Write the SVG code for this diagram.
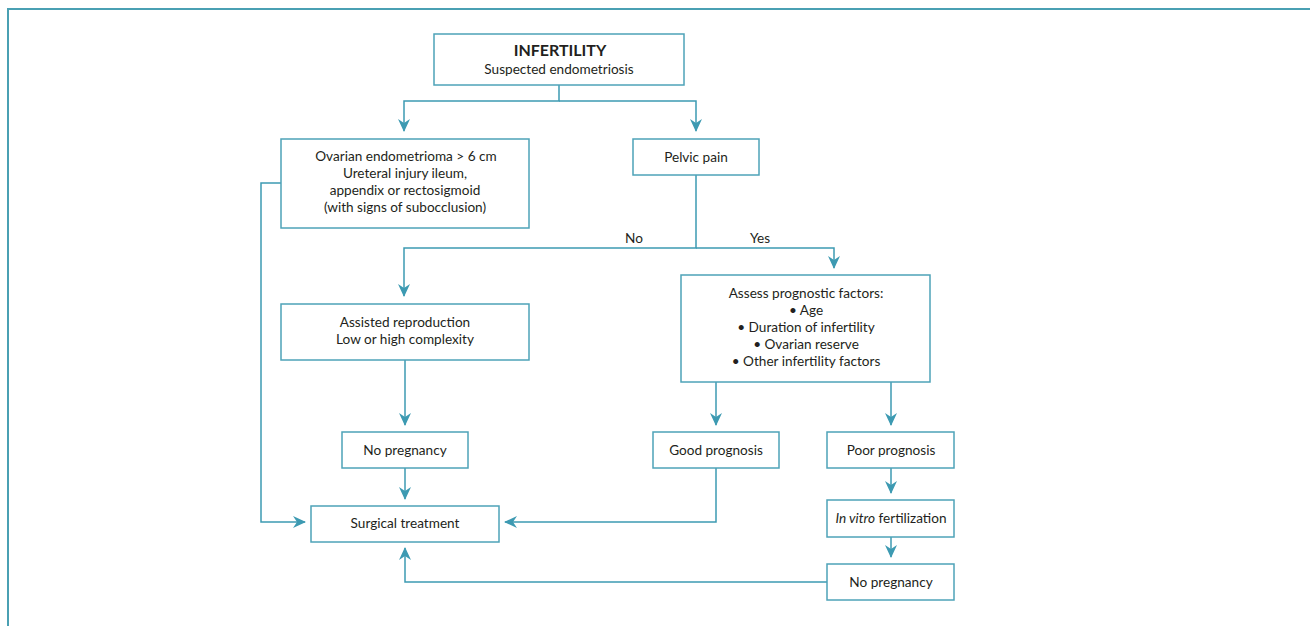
<svg xmlns="http://www.w3.org/2000/svg" width="1310" height="626" viewBox="0 0 1310 626">
<defs>
<style>
.box{fill:#fff;stroke:#4ea3b8;stroke-width:1.5}
.ln{fill:none;stroke:#3d9ab2;stroke-width:1.5}
.t{font-family:Lato,"Open Sans",sans-serif;font-size:13.6px;fill:#231f20;text-anchor:middle}
.b{font-weight:bold;font-size:16px}
</style>
<marker id="ah" markerUnits="userSpaceOnUse" markerWidth="14" markerHeight="14" viewBox="0 0 14 14" refX="12" refY="7" orient="auto">
<path d="M0,1 L13,7 L0,13 L4,7 z" fill="#3d9ab2"/>
</marker>
</defs>
<rect x="0" y="0" width="1310" height="626" fill="#fff"/>
<path d="M8,626 V9 H1310" fill="none" stroke="#4aa0b3" stroke-width="2"/>
<g id="connectors">
<path class="ln" d="M559,85 V101 H404 V131" marker-end="url(#ah)"/>
<path class="ln" d="M559,101 H696 V131" marker-end="url(#ah)"/>
<path class="ln" d="M696,175 V248 H404 V296" marker-end="url(#ah)"/>
<path class="ln" d="M696,248 H834 V268" marker-end="url(#ah)"/>
<path class="ln" d="M281,183 H261 V522 H305" marker-end="url(#ah)"/>
<path class="ln" d="M405,360 V425" marker-end="url(#ah)"/>
<path class="ln" d="M405,468 V499" marker-end="url(#ah)"/>
<path class="ln" d="M716,382 V425" marker-end="url(#ah)"/>
<path class="ln" d="M891,382 V425" marker-end="url(#ah)"/>
<path class="ln" d="M716,468 V522 H505" marker-end="url(#ah)"/>
<path class="ln" d="M891,468 V493" marker-end="url(#ah)"/>
<path class="ln" d="M891,537 V557" marker-end="url(#ah)"/>
<path class="ln" d="M827,582 H405 V548" marker-end="url(#ah)"/>
<text class="t" x="634" y="243">No</text>
<text class="t" x="760" y="243">Yes</text>
</g>
<g id="infertility">
<rect class="box" x="434" y="34" width="250" height="51"/>
<text class="t b" x="560" y="56">INFERTILITY</text>
<text class="t" x="559" y="74">Suspected endometriosis</text>
</g>
<g id="ovarian">
<rect class="box" x="281" y="139" width="248" height="89"/>
<text class="t" x="406" y="161">Ovarian endometrioma &gt; 6 cm</text>
<text class="t" x="405" y="178">Ureteral injury ileum,</text>
<text class="t" x="405" y="195">appendix or rectosigmoid</text>
<text class="t" x="405" y="212">(with signs of subocclusion)</text>
</g>
<g id="pelvic">
<rect class="box" x="633" y="139" width="126" height="36"/>
<text class="t" x="696" y="162">Pelvic pain</text>
</g>
<g id="assisted">
<rect class="box" x="281" y="304" width="248" height="56"/>
<text class="t" x="405" y="327">Assisted reproduction</text>
<text class="t" x="405" y="344">Low or high complexity</text>
</g>
<g id="assess">
<rect class="box" x="681" y="275" width="249" height="107"/>
<text class="t" x="806" y="298">Assess prognostic factors:</text>
<text class="t" x="806" y="315">• Age</text>
<text class="t" x="806" y="332">• Duration of infertility</text>
<text class="t" x="806" y="349">• Ovarian reserve</text>
<text class="t" x="806" y="366">• Other infertility factors</text>
</g>
<g id="nopreg1">
<rect class="box" x="342" y="432" width="126" height="36"/>
<text class="t" x="405" y="455">No pregnancy</text>
</g>
<g id="good">
<rect class="box" x="653" y="432" width="126" height="36"/>
<text class="t" x="716" y="455">Good prognosis</text>
</g>
<g id="poor">
<rect class="box" x="827" y="432" width="127" height="36"/>
<text class="t" x="891" y="455">Poor prognosis</text>
</g>
<g id="surgical">
<rect class="box" x="311" y="506" width="188" height="36"/>
<text class="t" x="405" y="528">Surgical treatment</text>
</g>
<g id="ivf">
<rect class="box" x="827" y="500" width="127" height="37"/>
<text class="t" x="891" y="523"><tspan font-style="italic">In vitro</tspan> fertilization</text>
</g>
<g id="nopreg2">
<rect class="box" x="827" y="564" width="127" height="36"/>
<text class="t" x="891" y="587">No pregnancy</text>
</g>
</svg>
